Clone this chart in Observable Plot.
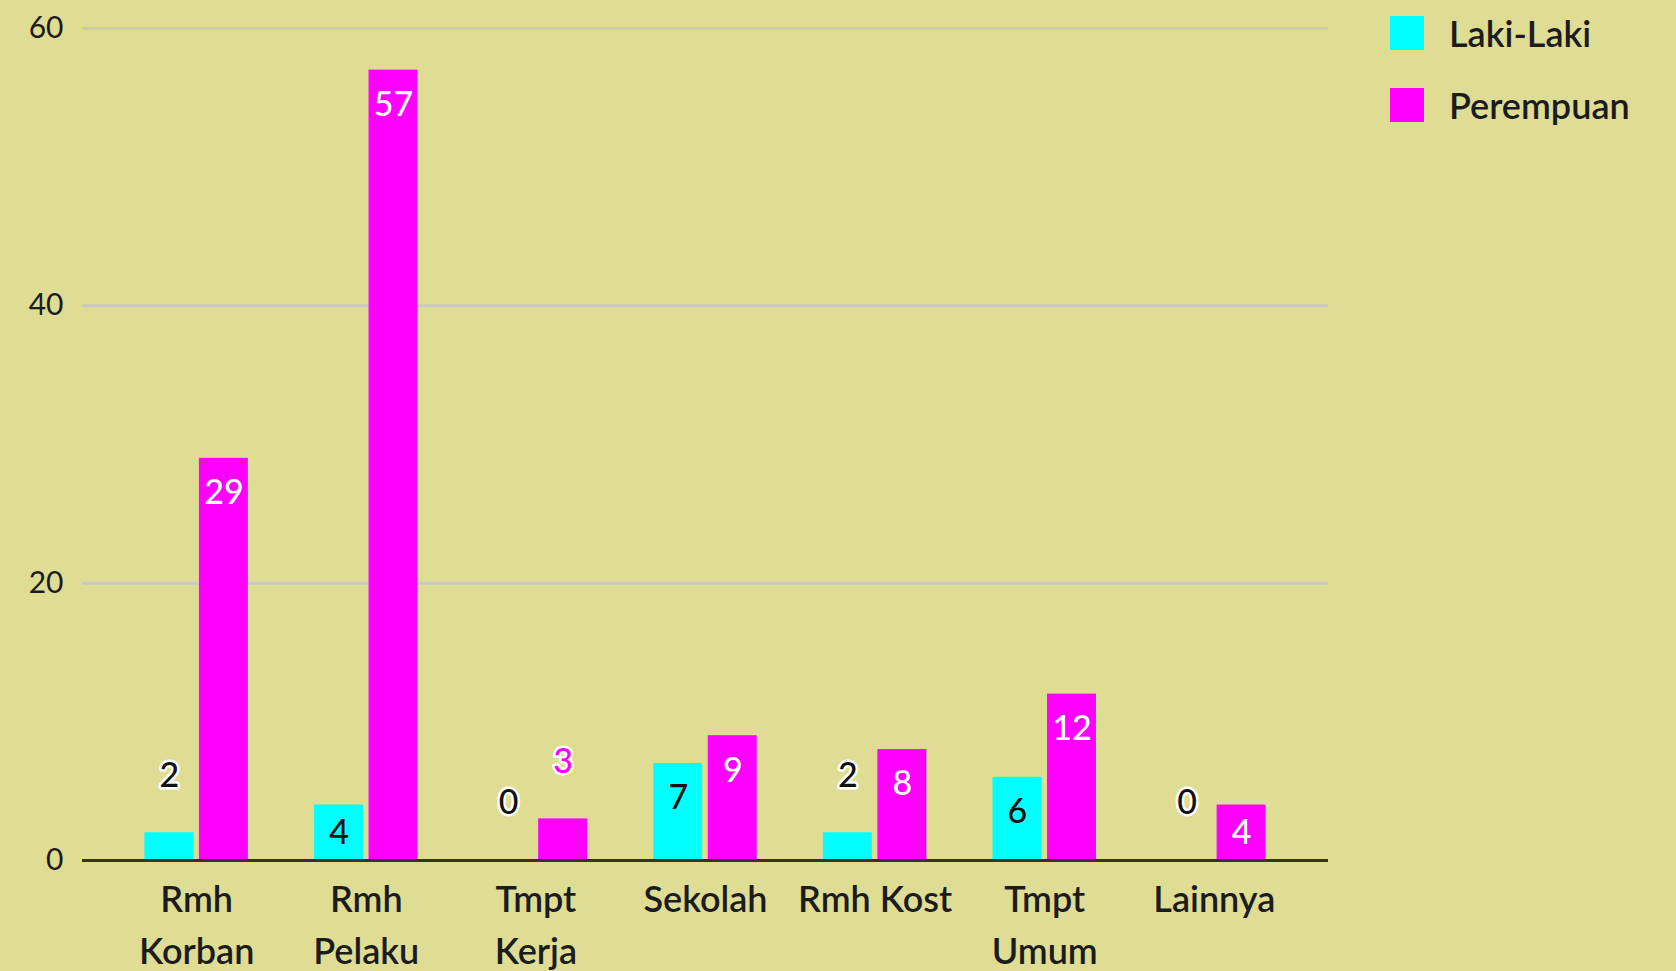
<!DOCTYPE html>
<html>
<head>
<meta charset="utf-8">
<script src="https://cdn.jsdelivr.net/npm/d3@7"></script>
<script src="https://cdn.jsdelivr.net/npm/@observablehq/plot@0.6"></script>
<style>
  html, body { margin: 0; padding: 0; background: #dfdc94; }
  #wrap { position: relative; width: 1676px; height: 971px; overflow: hidden; }
  #legend { position: absolute; left: 1390px; top: 16px; font-family: Lato, "Liberation Sans", sans-serif; font-weight: 600; font-size: 36px; color: #1c1c1c; }
  .item { display: flex; align-items: center; height: 34px; margin-bottom: 38px; }
  .sw { width: 34px; height: 34px; margin-right: 25px; }
</style>
</head>
<body>
<div id="wrap">
  <div id="chart"></div>
  <div id="legend"></div>
</div>
<script>
const categories = ["Rmh Korban", "Rmh Pelaku", "Tmpt Kerja", "Sekolah", "Rmh Kost", "Tmpt Umum", "Lainnya"];
const tickLabels = ["Rmh\nKorban", "Rmh\nPelaku", "Tmpt\nKerja", "Sekolah", "Rmh Kost", "Tmpt\nUmum", "Lainnya"];
const series = ["Laki-Laki", "Perempuan"];
const lakiLaki = [2, 4, 0, 7, 2, 6, 0];
const perempuan = [29, 57, 3, 9, 8, 12, 4];
const yTicks = [0, 20, 40, 60];
const colors = ["#00ffff", "#ff00ff"];

const rows = [];
categories.forEach((c, i) => {
  rows.push({category: c, series: series[0], value: lakiLaki[i]});
  rows.push({category: c, series: series[1], value: perempuan[i]});
});
rows.forEach(d => {
  d.pos = d.value <= 3 ? "above" : d.value < 5 ? "middle" : "inside";
});

const L = rows.filter(d => d.series === series[0]);
const P = rows.filter(d => d.series === series[1]);
const inset = 54.5;
const off = 27.25;
const labelFont = {fontFamily: "Lato, Liberation Sans, sans-serif", fontSize: 34, fontWeight: 500};

function labels(data, dx, insideFill, outsideFill) {
  return [
    Plot.text(data.filter(d => d.pos === "inside"), {x: "category", y: "value", text: d => String(d.value), dx, dy: 35, fill: insideFill, ...labelFont}),
    Plot.text(data.filter(d => d.pos === "middle"), {x: "category", y: d => d.value / 2, text: d => String(d.value), dx, fill: insideFill, ...labelFont}),
    Plot.text(data.filter(d => d.pos === "above"), {x: "category", y: "value", text: d => String(d.value), dx, dy: -57, fill: outsideFill, stroke: "white", strokeWidth: 5, ...labelFont})
  ];
}

const chart = Plot.plot({
  width: 1676,
  height: 971,
  marginLeft: 82,
  marginRight: 348,
  marginTop: 28,
  marginBottom: 111,
  style: {background: "#dfdc94", color: "#1c1c1c"},
  x: {domain: categories, paddingInner: 0.39, paddingOuter: 0.368, round: false, axis: null, label: null},
  y: {domain: [0, 60], axis: null, label: null},
  marks: [
    Plot.ruleY(yTicks.filter(t => t > 0), {stroke: "#c8c8c8", strokeWidth: 3}),
    Plot.barY(L, {x: "category", y: "value", fill: colors[0], insetRight: inset}),
    Plot.barY(P, {x: "category", y: "value", fill: colors[1], insetLeft: inset}),
    Plot.ruleY([0], {stroke: "#333333", strokeWidth: 3}),
    ...labels(L, -off, "#111111", "#111111"),
    ...labels(P, off, "white", colors[1]),
    Plot.axisY({ticks: yTicks, label: null, tickSize: 0, tickPadding: 19, fontSize: 30, fontFamily: "Lato, Liberation Sans, sans-serif", fill: "#1c1c1c"}),
    Plot.axisX({label: null, tickSize: 0, tickPadding: 14, tickFormat: d => tickLabels[categories.indexOf(d)], fontSize: 36, fontWeight: 600, lineHeight: 1.46, fontFamily: "Lato, Liberation Sans, sans-serif", fill: "#1c1c1c"})
  ]
});
document.getElementById("chart").appendChild(chart);

const legend = document.getElementById("legend");
series.forEach((s, i) => {
  const item = document.createElement("div");
  item.className = "item";
  const sw = document.createElement("div");
  sw.className = "sw";
  sw.style.background = colors[i];
  const t = document.createElement("span");
  t.textContent = s;
  item.appendChild(sw);
  item.appendChild(t);
  legend.appendChild(item);
});
</script>
</body>
</html>
